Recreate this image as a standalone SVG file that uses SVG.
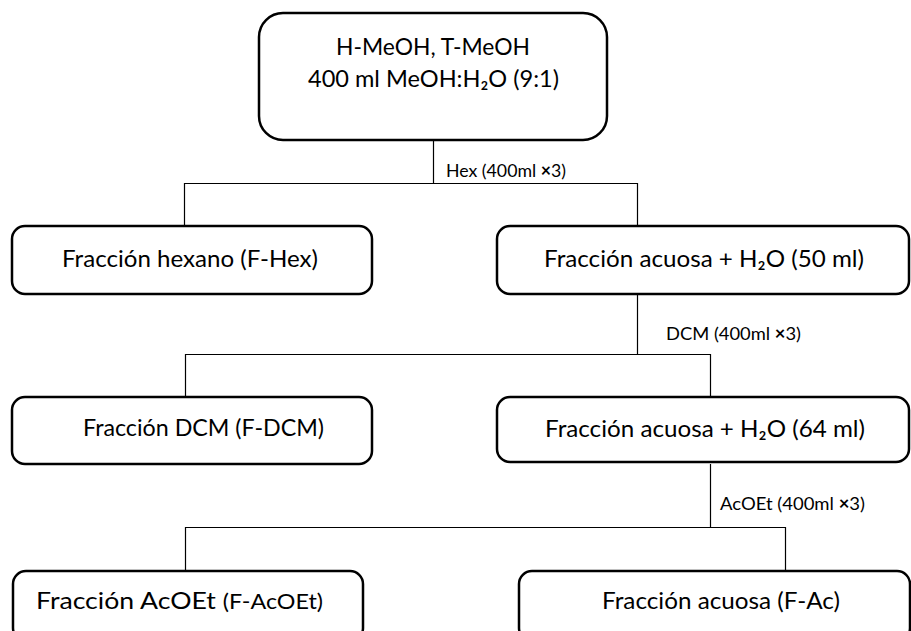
<svg xmlns="http://www.w3.org/2000/svg" width="911" height="631" viewBox="0 0 911 631">
<style>
.box{fill:#fff;stroke:#000;stroke-width:2.5}
.t{font-family:Lato,"Liberation Sans",sans-serif;font-size:24px;fill:#000}
.l{font-family:Lato,"Liberation Sans",sans-serif;font-size:18px;fill:#000}
.c{fill:none;stroke:#000;stroke-width:1.2}
.b{font-weight:bold}
</style>
<rect width="911" height="631" fill="#fff"/>
<g id="connectors">
<path class="c" d="M433.5 140V183.5M184.5 226V183.5H637.5V226"/>
<path class="c" d="M637.5 294V354.5M185.5 397V354.5H710.5V397"/>
<path class="c" d="M710.5 464V527.5M185.5 571V527.5H785.5V571"/>
<text class="l" x="446" y="177" textLength="120" lengthAdjust="spacingAndGlyphs">Hex (400ml <tspan class="b">×</tspan>3)</text>
<text class="l" x="666" y="340" textLength="135" lengthAdjust="spacingAndGlyphs">DCM (400ml <tspan class="b">×</tspan>3)</text>
<text class="l" x="720" y="510" textLength="145" lengthAdjust="spacingAndGlyphs">AcOEt (400ml <tspan class="b">×</tspan>3)</text>
</g>
<g id="n0">
<rect class="box" x="259" y="13" width="348" height="127" rx="24"/>
<text class="t" x="336" y="55" textLength="194" lengthAdjust="spacingAndGlyphs">H-MeOH, T-MeOH</text>
<text class="t" x="308" y="87" textLength="251" lengthAdjust="spacingAndGlyphs">400 ml MeOH:H₂O (9:1)</text>
</g>
<g id="n1">
<rect class="box" x="12" y="226" width="360" height="68" rx="13"/>
<text class="t" x="62" y="267" textLength="256" lengthAdjust="spacingAndGlyphs">Fracción hexano (F-Hex)</text>
</g>
<g id="n2">
<rect class="box" x="497" y="226" width="412" height="68" rx="13"/>
<text class="t" x="544" y="267" textLength="320" lengthAdjust="spacingAndGlyphs">Fracción acuosa + H₂O (50 ml)</text>
</g>
<g id="n3">
<rect class="box" x="12" y="397" width="360" height="67" rx="13"/>
<text class="t" x="83" y="436" textLength="241" lengthAdjust="spacingAndGlyphs">Fracción DCM (F-DCM)</text>
</g>
<g id="n4">
<rect class="box" x="497" y="397" width="412" height="65" rx="13"/>
<text class="t" x="545" y="437" textLength="320" lengthAdjust="spacingAndGlyphs">Fracción acuosa + H₂O (64 ml)</text>
</g>
<g id="n5">
<rect class="box" x="13" y="571" width="350" height="70" rx="13"/>
<text class="t" x="36" y="609" textLength="287" lengthAdjust="spacingAndGlyphs">Fracción AcOEt <tspan font-size="21">(F-AcOEt)</tspan></text>
</g>
<g id="n6">
<rect class="box" x="519" y="571" width="391" height="70" rx="13"/>
<text class="t" x="602" y="609" textLength="238" lengthAdjust="spacingAndGlyphs">Fracción acuosa (F-Ac)</text>
</g>
</svg>
